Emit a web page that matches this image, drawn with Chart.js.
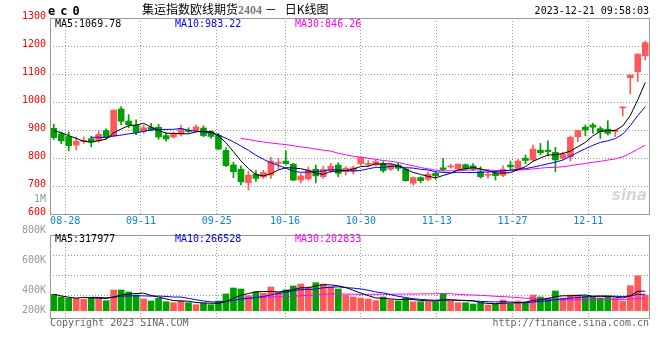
<!DOCTYPE html>
<html>
<head>
<meta charset="utf-8">
<script src="https://cdn.jsdelivr.net/npm/chart.js@4/dist/chart.umd.min.js"></script>
<style>
  body { margin: 0; background: #fff; }
  #wrap { position: relative; width: 660px; height: 360px; overflow: hidden;
          font-family: 'DejaVu Sans Mono', monospace; font-size: 10px; }
  #wrap canvas { position: absolute; left: 0; }
  .t { position: absolute; white-space: pre; line-height: 10px; }
  .r { text-align: right; left: 0; width: 46px; color: #999; }
</style>
</head>
<body>
<div id="wrap">
  <canvas id="kline" width="660" height="233" style="top:0"></canvas>
  <canvas id="vol" width="660" height="100" style="top:228px"></canvas>

  <div class="t" style="left:48px;top:5px;font:bold 12px/12px 'DejaVu Sans Mono',monospace;letter-spacing:5px">ec0</div>
  <div class="t" style="left:142px;top:3px;font:12px/12px 'Noto Sans CJK SC',sans-serif">集运指数欧线期货<span style="font:bold 12px/12px 'Liberation Serif',serif;color:#777">2404</span> －   日K线图</div>
  <div class="t" style="right:11px;top:6px">2023-12-21 09:58:03</div>

  <div class="t" style="left:55px;top:19px;color:#000">MA5:1069.78</div>
  <div class="t" style="left:175px;top:19px;color:#00f">MA10:983.22</div>
  <div class="t" style="left:295px;top:19px;color:#f0f">MA30:846.26</div>
  <div class="t r" style="top:194px">1M</div>
  <div class="t" style="left:612px;top:188px;font:italic bold 15px/15px 'DejaVu Sans',sans-serif;color:#d6d6d6">sina</div>

  <div class="t" style="left:55px;top:234px;color:#000">MA5:317977</div>
  <div class="t" style="left:175px;top:234px;color:#00f">MA10:266528</div>
  <div class="t" style="left:295px;top:234px;color:#f0f">MA30:202833</div>
  <div class="t r" style="top:225px">800K</div>
  <div class="t r" style="top:255px">600K</div>
  <div class="t r" style="top:285px">400K</div>
  <div class="t r" style="top:305px">200K</div>

  <div class="t" style="left:50px;top:318px;color:#666">Copyright 2023 SINA.COM</div>
  <div class="t" style="right:11px;top:318px;color:#666">http://finance.sina.com.cn</div>
</div>

<script>
// trading days shown on the daily K chart
const dates = ['08-24','08-25','08-28','08-29','08-30','08-31','09-01','09-04','09-05','09-06',
  '09-07','09-08','09-11','09-12','09-13','09-14','09-15','09-18','09-19','09-20',
  '09-21','09-22','09-25','09-26','09-27','09-28','10-09','10-10','10-11','10-12',
  '10-13','10-16','10-17','10-18','10-19','10-20','10-23','10-24','10-25','10-26',
  '10-27','10-30','10-31','11-01','11-02','11-03','11-06','11-07','11-08','11-09',
  '11-10','11-13','11-14','11-15','11-16','11-17','11-20','11-21','11-22','11-23',
  '11-24','11-27','11-28','11-29','11-30','12-01','12-04','12-05','12-06','12-07',
  '12-08','12-11','12-12','12-13','12-14','12-15','12-18','12-19','12-20','12-21'];
const tickDates = ['08-28','09-11','09-25','10-16','10-30','11-13','11-27','12-11'];

const opens = [906,886,877,846,859,869,862,898,878,975, 932,918,894,909,910,880,875,885,900,897,
  907,895,880,827,775,760,712,742,732,739, 781,789,778,721,725,760,733,755,775,751,
  753,780,777,775,781,760,775,760,710,730, 724,745,765,768,761,776,772,751,738,745,
  738,775,763,799,793,828,828,820,799,805, 876,910,918,905,903,894,979,1087,1108,1165];
const highs = [921,893,893,875,875,878,897,904,972,984, 955,936,918,924,920,890,892,918,908,918,
  915,897,888,836,785,772,752,755,757,802, 800,826,781,744,768,775,771,781,783,769,
  771,803,791,793,787,778,781,763,733,733, 751,751,799,778,779,779,780,769,750,755,
  772,789,795,811,846,852,861,838,820,879, 900,918,924,912,933,900,983,1097,1172,1218];
const lows = [866,851,825,829,852,840,856,868,876,919, 908,883,888,897,867,860,871,879,890,893,
  876,870,829,769,730,704,686,716,727,727, 760,777,719,711,721,711,727,748,733,739,
  743,775,769,771,749,755,755,717,704,712, 719,724,754,764,759,757,756,728,728,721,
  733,757,761,779,789,811,807,751,795,789, 858,879,888,870,882,876,950,1029,1073,1150];
const closes = [873,861,844,860,862,857,885,873,971,931, 919,891,908,901,875,868,888,904,895,911,
  880,877,832,773,751,715,739,727,748,789, 783,780,721,736,757,736,759,771,745,763,
  765,802,780,787,755,775,763,719,730,719, 742,737,759,771,778,762,761,733,740,737,
  760,768,789,791,832,819,823,793,814,874, 898,900,910,894,888,900,982,1096,1171,1212];

const ma5 = [898,890,880,870,860,856.8,861.6,867.4,889.6,903.4, 915.8,917,924,910,898.8,888.6,888,887.2,886,893.2,
  895.6,893.4,879,854.6,822.6,789.6,762,741,736,743.6, 757.2,765.4,764.2,761.8,755.4,746,741.8,751.8,753.6,754.8,
  760.6,769.2,771,779.4,777.8,779.8,772,759.8,748.4,741.2, 734.6,729.4,737.4,745.6,757.4,761.4,766.2,761,754.8,746.6,
  746.2,747.6,758.8,769,788,799.8,810.8,811.6,816.2,824.6, 840.4,855.8,879.2,895.2,898,898.4,914.8,952,1007.4,1069.8];
const ma10 = [null,null,null,null,null,874,874,873,879,881.7, 886.3,889.3,895.7,899.8,901.1,902.2,902.5,905.6,898,896,
  892.1,890.7,883.1,870.3,857.9,842.6,827.7,810,795.3,783.1, 773.4,763.7,752.6,748.9,749.5,751.6,753.6,758,757.7,755.1,
  753.3,755.5,761.4,766.5,766.3,770.2,770.6,765.4,763.9,759.5, 757.2,750.7,748.6,747,749.3,748,747.8,749.2,750.2,752,
  753.8,756.9,759.9,761.9,767.3,773,779.2,785.2,792.6,806.3, 820.1,833.3,845.4,855.7,861.3,869.4,885.3,915.6,951.3,983.2];
const ma30 = [null,null,null,null,null,null,null,null,null,null, null,null,null,null,null,null,null,null,null,null,
  null,null,null,null,null,870,866,861,857,853.6, 850.6,847.9,843.8,839.7,836.2,832.1,827.9,824.5,817,811.4,
  806.3,803.3,799,795.2,791.2,788.1,784,777.8,772.3,765.9, 761.3,756.6,754.2,754.1,755,756.6,757.3,757.5,757.3,755.5,
  754.8,754.4,756.6,758.5,761,763.7,765.9,766.6,768.9,772.6, 777,780.3,784.6,788.2,792.6,796.8,804.1,816.7,831.4,846.3];

// volume, thousand lots
const volumes = [267,223,206,202,185,218,218,163,337,337, 304,255,190,158,202,146,130,158,130,98,
  120,98,158,272,369,353,244,304,283,385, 304,337,402,434,385,455,434,390,353,255,
  223,206,190,163,223,174,158,206,146,146, 146,146,272,158,130,130,109,130,93,109,
  174,109,158,141,255,223,206,320,206,255, 255,239,223,206,239,202,158,407,569,255];
const vma5 = [267,240,220,205,216.6,206.8,205.8,197.2,224.2,254.6, 271.8,279.2,284.6,248.8,221.8,190.2,165.2,158.8,153.2,132.4,
  127.2,120.8,120.8,149.2,203.4,250,279.2,308.4,310.6,313.8, 304,322.6,342.2,372.4,372.4,402.6,422,419.6,403.4,377.4,
  331,285.4,245.4,207.4,201,191.2,181.6,184.8,181.4,166, 160.4,158,171.2,173.6,170.4,167.2,159.8,131.4,118.4,114.2,
  123,123,128.6,138.2,167.4,177.2,196.6,229,242,242, 248.4,255,235.6,235.6,232.4,221.8,205.6,242.4,315,318];
const vma10 = [null,null,null,null,null,218,215,210,218,235.6, 239.3,242.5,240.9,236.5,238.2,231,222.2,221.7,201,177.1,
  158.7,143,139.8,151.2,167.9,188.6,200,214.6,229.9,258.6, 277,300.9,325.3,341.5,343.1,353.3,372.3,380.9,387.9,374.9,
  366.8,353.7,332.5,305.4,289.2,261.1,233.5,215.1,194.4,183.5, 175.8,169.8,178,177.5,168.2,163.8,158.9,151.3,146,142.3,
  145.1,141.4,130,128.3,140.8,150.1,159.8,178.8,190.1,204.7, 212.8,225.8,232.3,238.8,237.2,235.1,230.3,239,268,266.5];
const vma30 = [null,null,null,null,null,null,null,null,null,null, null,null,null,null,null,null,null,null,null,null,
  null,null,null,null,null,200,207,213,219,223.8, 225,228.8,235.3,243.1,249.7,257.6,264.8,272.4,272.9,270.2,
  267.5,265.9,265.9,266,266.7,267.7,268.6,270.2,270.7,272.3, 273.2,274.8,278.6,274.8,266.8,259.4,254.9,249.1,242.8,233.6,
  229.2,221.6,213.5,203.7,199.4,191.7,184.1,181.7,176.8,176.8, 177.9,179,180.1,181.5,182.1,183,183,189.7,200,202.8];

const RED = '#ff5a5a', GREEN = '#00a000';
const GRID = '#999', FRAME = '#999';
const upDown = closes.map((c, i) => c >= opens[i] ? RED : GREEN);

Chart.defaults.font.family = "'DejaVu Sans Mono', monospace";
Chart.defaults.font.size = 10;
Chart.defaults.animation = false;
Chart.defaults.plugins.legend.display = false;
Chart.defaults.plugins.tooltip.enabled = false;

// solid gray box round the plot area
const frame = {
  id: 'frame',
  afterDraw(chart) {
    const a = chart.chartArea, ctx = chart.ctx;
    ctx.save();
    ctx.strokeStyle = FRAME;
    ctx.lineWidth = 1;
    ctx.strokeRect(Math.round(a.left) + 0.5, Math.round(a.top) + 0.5,
      Math.round(a.right - a.left), Math.round(a.bottom - a.top));
    ctx.restore();
  }
};

// linear axis over candle indexes, used for the date grid lines and labels
function dateAxis(showLabels) {
  return {
    type: 'linear', position: 'bottom', min: 0, max: dates.length - 1,
    offset: false, bounds: 'data',
    afterBuildTicks: s => { s.ticks = tickDates.map(d => ({ value: dates.indexOf(d) })); },
    afterFit: s => { s.height = showLabels ? 19 : 0; },
    ticks: { display: showLabels, color: '#0a84d8', padding: 1, autoSkip: false, maxRotation: 0,
             callback: v => dates[v] },
    grid: { color: GRID, drawTicks: false, offset: false },
    border: { display: false, dash: [1, 2] }
  };
}

function maLine(data, color) {
  return { type: 'line', data, borderColor: color, borderWidth: 1, pointRadius: 0, tension: 0, order: 0 };
}

new Chart(document.getElementById('kline'), {
  type: 'bar',
  data: {
    labels: dates,
    datasets: [
      maLine(ma5, '#000'), maLine(ma10, '#00f'), maLine(ma30, '#f0f'),
      { data: opens.map((o, i) => [o, closes[i]]), backgroundColor: upDown,
        barThickness: 6, grouped: false, minBarLength: 1, order: 1 },
      { data: lows.map((l, i) => [l, highs[i]]), backgroundColor: upDown,
        barThickness: 1, grouped: false, order: 2 }
    ]
  },
  options: {
    responsive: false,
    layout: { padding: { top: 18, right: 11, left: 0, bottom: 0 } },
    scales: {
      x: { display: false, offset: true },
      xg: dateAxis(true),
      y: {
        min: 600, max: 1300,
        afterFit: s => { s.width = 50; },
        ticks: { stepSize: 100, color: '#f00', padding: 4, labelOffset: -2, callback: v => String(v) },
        grid: { color: GRID, drawTicks: false },
        border: { display: false, dash: [1, 2] }
      }
    }
  },
  plugins: [frame]
});

new Chart(document.getElementById('vol'), {
  type: 'bar',
  data: {
    labels: dates,
    datasets: [
      maLine(vma5, '#000'), maLine(vma10, '#00f'), maLine(vma30, '#f0f'),
      { data: volumes, backgroundColor: upDown, barThickness: 6, grouped: false, order: 1 }
    ]
  },
  options: {
    responsive: false,
    layout: { padding: { top: 7, right: 11, left: 0, bottom: 10 } },
    scales: {
      x: { display: false, offset: true },
      xg: dateAxis(false),
      y: {
        min: -119, max: 1231,
        afterFit: s => { s.width = 50; },
        afterBuildTicks: s => { s.ticks = [250, 575, 900].map(v => ({ value: v })); },
        ticks: { display: false },
        grid: { color: GRID, drawTicks: false },
        border: { display: false, dash: [1, 2] }
      }
    }
  },
  plugins: [frame]
});
</script>
</body>
</html>
